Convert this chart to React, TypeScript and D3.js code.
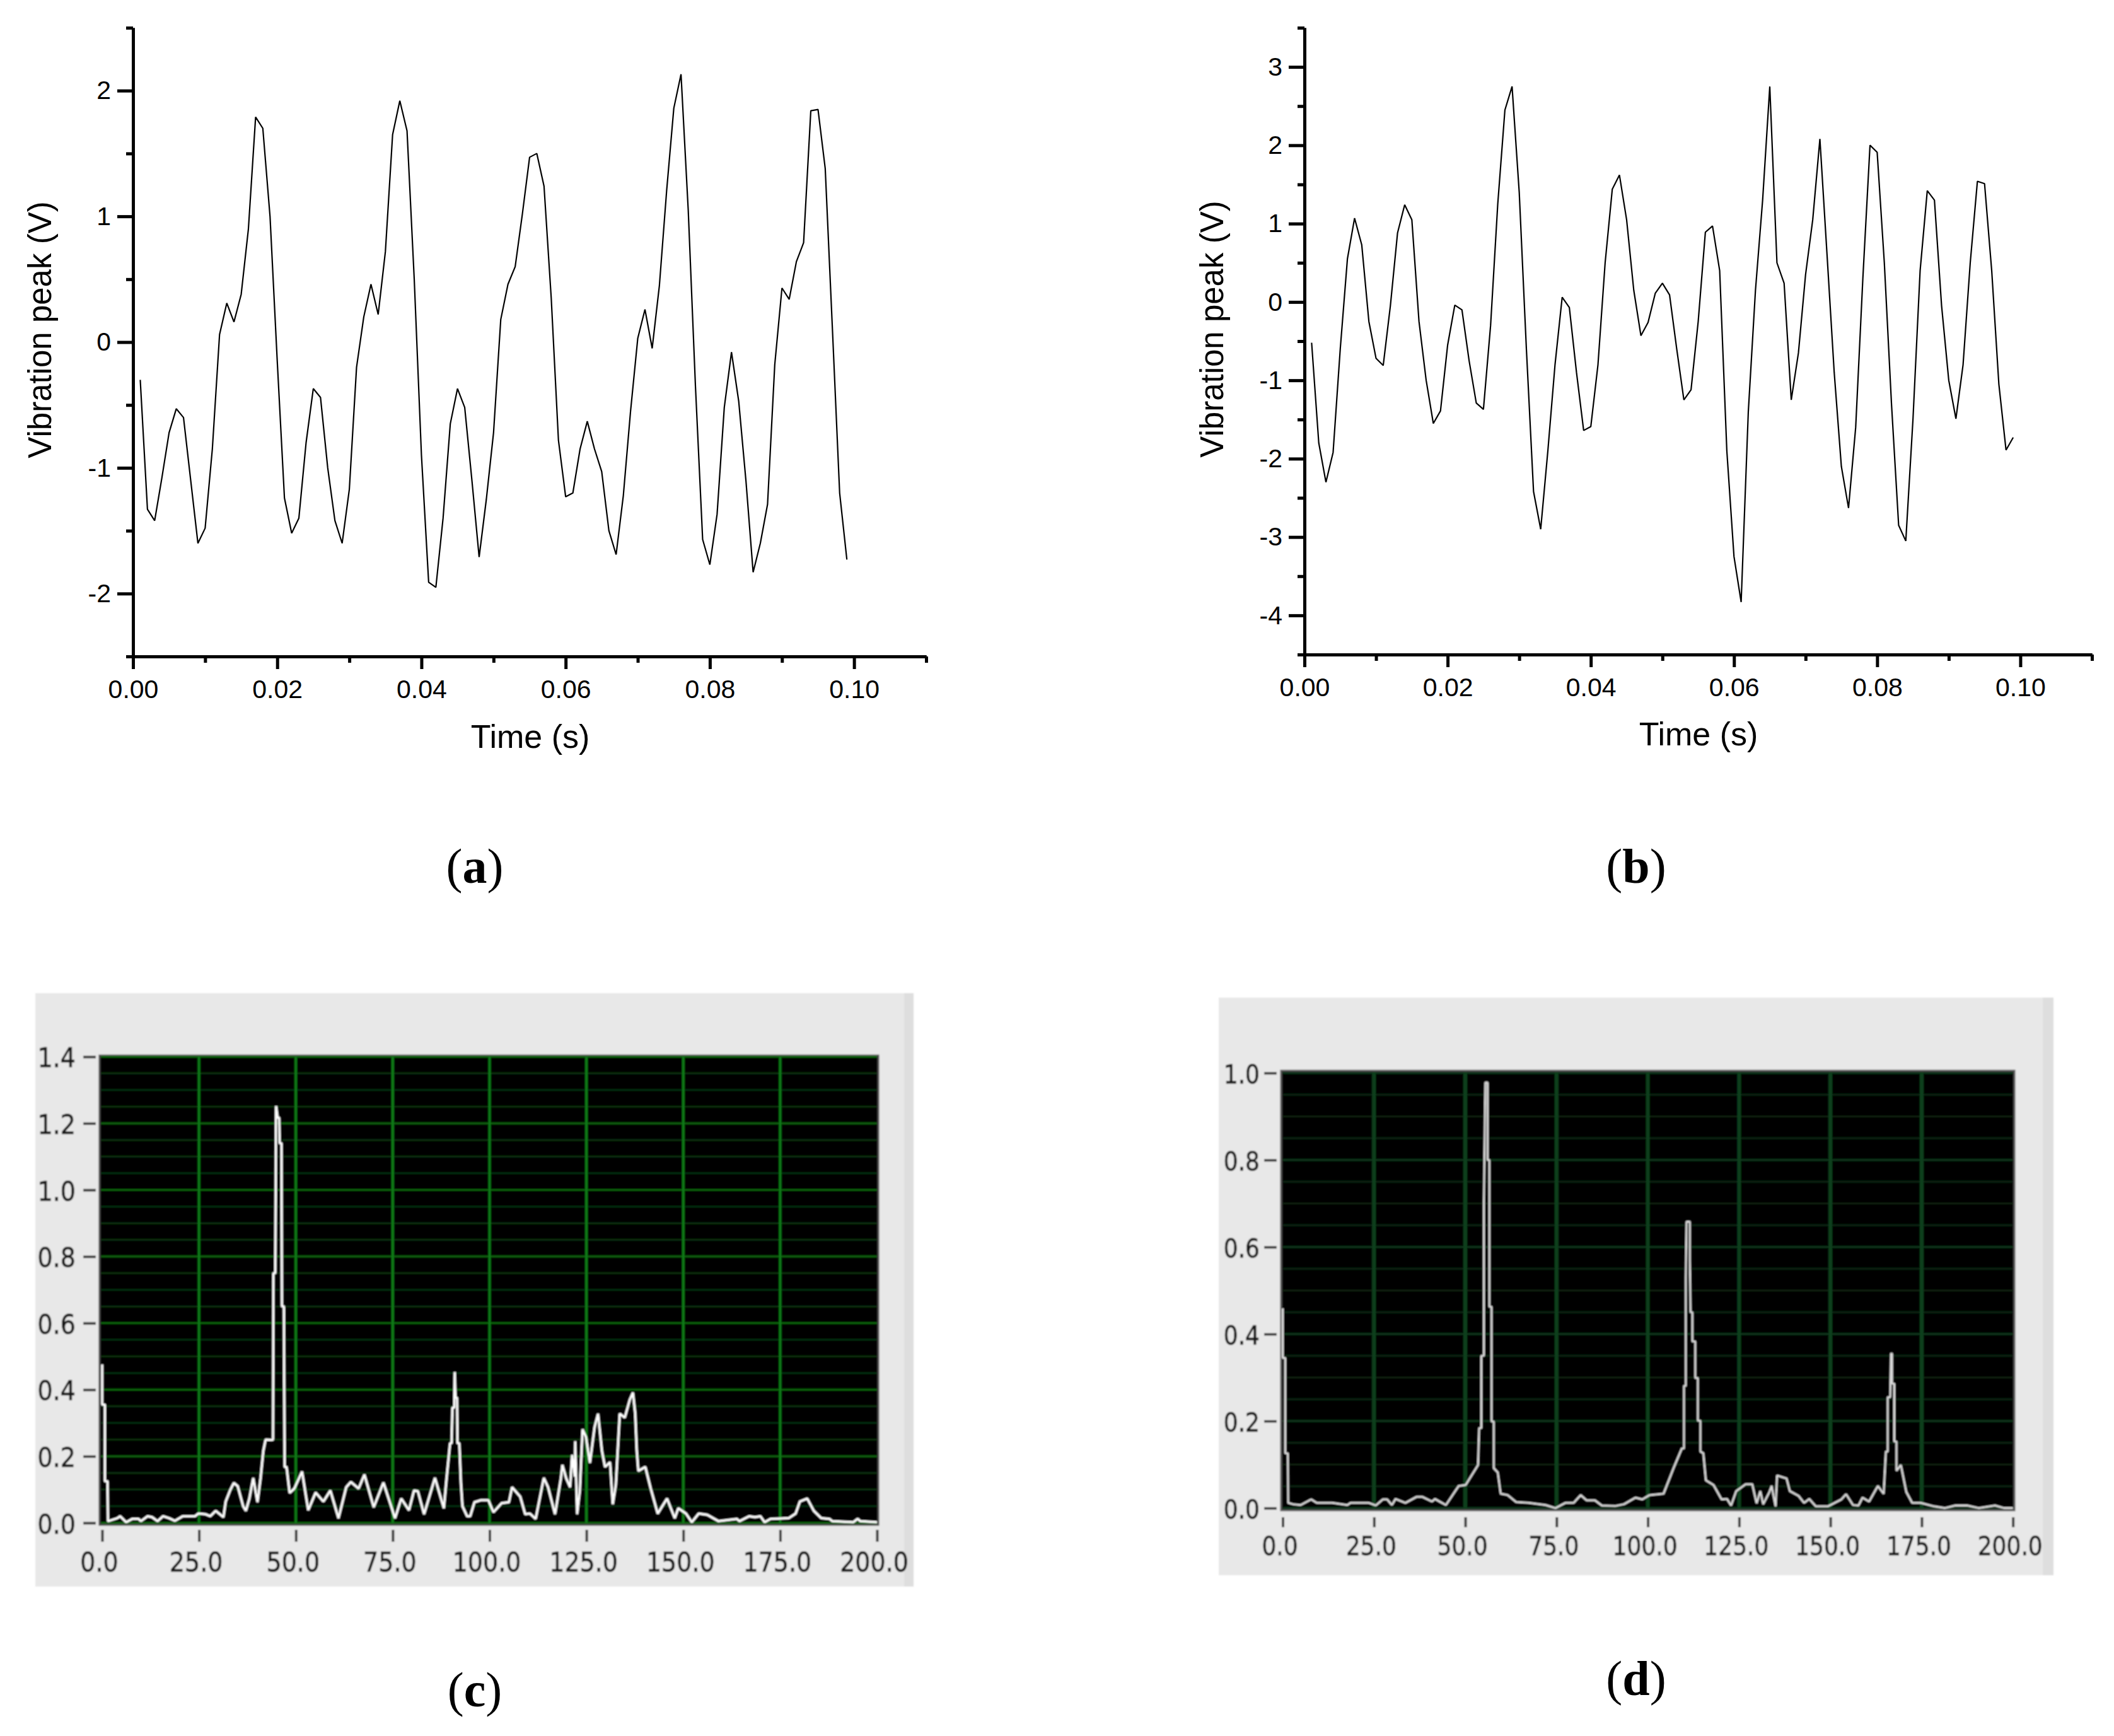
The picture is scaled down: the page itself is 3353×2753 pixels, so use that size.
import { useEffect, useRef } from 'react';
import * as d3 from 'd3';

// one sample per millisecond, starting at 0.001 s
const peakA = [
  -0.3, -1.33, -1.42, -1.08, -0.72, -0.53, -0.6, -1.1, -1.6, -1.48, -0.85, 0.06, 0.31, 0.16, 0.38, 0.9, 1.79, 1.7, 1.0,
  -0.15, -1.24, -1.52, -1.4, -0.8, -0.37, -0.44, -1.0, -1.42, -1.6, -1.17, -0.2, 0.2, 0.46, 0.22, 0.72, 1.65, 1.92, 1.68,
  0.5, -0.9, -1.91, -1.95, -1.4, -0.65, -0.37, -0.52, -1.1, -1.71, -1.25, -0.72, 0.18, 0.46, 0.6, 1.02, 1.47, 1.5, 1.24,
  0.35, -0.78, -1.23, -1.2, -0.85, -0.63, -0.85, -1.03, -1.5, -1.69, -1.22, -0.55, 0.03, 0.26, -0.05, 0.45, 1.2, 1.86,
  2.13, 1.05, -0.35, -1.57, -1.77, -1.37, -0.52, -0.08, -0.47, -1.1, -1.83, -1.6, -1.29, -0.18, 0.43, 0.34, 0.64, 0.79,
  1.84, 1.85, 1.38, 0.1, -1.2, -1.73,
];
const peakB = [
  -0.52, -1.8, -2.3, -1.92, -0.6, 0.55, 1.07, 0.73, -0.25, -0.72, -0.81, -0.05, 0.88, 1.24, 1.05, -0.25, -1.0, -1.55,
  -1.39, -0.55, -0.04, -0.1, -0.75, -1.29, -1.37, -0.3, 1.25, 2.45, 2.75, 1.4, -0.6, -2.42, -2.9, -1.9, -0.8, 0.06, -0.07,
  -0.9, -1.64, -1.59, -0.8, 0.5, 1.44, 1.62, 1.05, 0.15, -0.43, -0.26, 0.11, 0.24, 0.09, -0.6, -1.25, -1.12, -0.25, 0.89,
  0.97, 0.4, -1.9, -3.25, -3.83, -1.4, 0.15, 1.3, 2.75, 0.5, 0.24, -1.25, -0.65, 0.35, 1.05, 2.08, 0.6, -0.9, -2.1, -2.63,
  -1.6, 0.3, 2.0, 1.91, 0.5, -1.3, -2.85, -3.05, -1.5, 0.4, 1.42, 1.3, -0.05, -1.0, -1.49, -0.8, 0.5, 1.54, 1.51, 0.4,
  -1.05, -1.89, -1.73,
];

// [Hz, amplitude]
const spectrumC: [number, number][] = [
  [0, 0.476], [0, 0.355], [0.7, 0.355], [0.7, 0.125], [1.4, 0.125], [1.5, 0.005], [3.9, 0.014], [4.65, 0.02], [6.2, 0.002],
  [7.8, 0.012], [9.4, 0.012], [10, 0.005], [11.75, 0.02], [12.9, 0.017], [14.3, 0.005], [15.7, 0.02], [17.3, 0.014],
  [18.8, 0.006], [20.8, 0.02], [24, 0.02], [24.8, 0.028], [26.7, 0.026], [27.9, 0.02], [29.3, 0.036], [30.7, 0.023],
  [31.3, 0.017], [31.9, 0.064], [33, 0.097], [34, 0.12], [35, 0.11], [36.4, 0.05], [37.1, 0.036], [38, 0.073], [39, 0.135],
  [40.1, 0.062], [40.9, 0.135], [41.6, 0.216], [42.2, 0.25], [43.7, 0.249], [44.1, 0.25], [44.2, 0.75], [44.7, 0.75],
  [44.9, 1.252], [45.3, 1.217], [45.7, 1.217], [45.8, 1.14], [46.3, 1.14], [46.4, 0.65], [46.9, 0.65], [47.1, 0.168],
  [47.6, 0.168], [48.4, 0.09], [49.6, 0.103], [51.6, 0.154], [53.2, 0.038], [55.1, 0.091], [57.1, 0.064], [58.9, 0.097],
  [61, 0.014], [63, 0.107], [64.2, 0.123], [66.2, 0.103], [67.7, 0.145], [70.1, 0.047], [72.6, 0.121], [75.6, 0.014],
  [77.2, 0.073], [79.2, 0.038], [80.5, 0.097], [81.5, 0.095], [83.1, 0.026], [85.9, 0.135], [88.2, 0.044], [88.9, 0.133],
  [89.8, 0.239], [90.2, 0.239], [90.4, 0.346], [90.9, 0.346], [91, 0.453], [91.2, 0.376], [91.6, 0.376], [91.7, 0.239],
  [92.2, 0.239], [92.6, 0.121], [93, 0.05], [94.2, 0.02], [95, 0.02], [96.1, 0.062], [97.7, 0.068], [99.7, 0.068],
  [101, 0.032], [103.1, 0.059], [105, 0.062], [105.8, 0.107], [107.9, 0.079], [109.2, 0.026], [110.4, 0.028], [111.9, 0.012],
  [114, 0.135], [115.1, 0.107], [116.9, 0.026], [118.4, 0.133], [118.8, 0.174], [119.8, 0.133], [120.8, 0.107], [121.3, 0.204],
  [122, 0.139], [122.1, 0.245], [122.6, 0.026], [123.3, 0.097], [124, 0.281], [124.9, 0.257], [125.9, 0.18], [127.1, 0.287],
  [128, 0.328], [129, 0.216], [129.8, 0.168], [131.1, 0.182], [131.8, 0.056], [132.6, 0.115], [133.6, 0.328], [134.9, 0.316],
  [136.2, 0.37], [137, 0.391], [137.6, 0.328], [138, 0.216], [138.4, 0.156], [140.2, 0.168], [141.6, 0.103], [143.4, 0.028],
  [145.8, 0.073], [147.8, 0.014], [148.7, 0.044], [150.7, 0.028], [152.2, 0.002], [154, 0.028], [156.2, 0.024], [159.1, 0.005],
  [163.8, 0.012], [164.5, 0.005], [167, 0.02], [168.5, 0.017], [169.9, 0.02], [171, 0.002], [172.5, 0.012], [177.2, 0.014],
  [179, 0.028], [180.1, 0.064], [182, 0.073], [183.7, 0.036], [185.6, 0.014], [187.7, 0.012], [188.5, 0.005], [193.9, 0.002],
  [195, 0.012], [195.7, 0.005], [200, 0.002],
];
const spectrumD: [number, number][] = [
  [0, 0.459], [0, 0.345], [0.7, 0.345], [0.7, 0.126], [1.4, 0.126], [1.5, 0.012], [2.8, 0.009], [4.9, 0.007], [7.8, 0.02],
  [9.3, 0.012], [13.6, 0.012], [17.7, 0.007], [18.6, 0.012], [23.6, 0.012], [25.5, 0.006], [27.4, 0.02], [28.6, 0.02],
  [29.9, 0.007], [30.9, 0.021], [33.6, 0.012], [36.7, 0.026], [38.2, 0.026], [40.9, 0.015], [41.7, 0.021], [44.7, 0.007],
  [48.2, 0.051], [50.1, 0.053], [53.5, 0.099], [53.8, 0.184], [54.4, 0.184], [54.4, 0.35], [55.1, 0.35], [55.1, 0.703],
  [55.5, 0.978], [56.1, 0.978], [56.1, 0.8], [56.6, 0.8], [56.6, 0.463], [57.2, 0.463], [57.2, 0.199], [57.8, 0.199],
  [57.8, 0.092], [58.9, 0.082], [59.7, 0.033], [61.6, 0.03], [63.9, 0.014], [67.4, 0.012], [72, 0.007], [74.7, 0.0],
  [77.4, 0.012], [79.7, 0.012], [81.6, 0.03], [83.2, 0.018], [85.5, 0.018], [87.4, 0.006], [91.2, 0.005], [93.5, 0.009],
  [96.6, 0.024], [98.5, 0.02], [100.5, 0.03], [104.3, 0.033], [107.2, 0.095], [109.3, 0.137], [109.9, 0.137], [109.9, 0.281],
  [110.4, 0.281], [110.4, 0.53], [110.6, 0.658], [111.5, 0.658], [111.5, 0.57], [111.7, 0.45], [112.2, 0.45], [112.2, 0.383],
  [113, 0.383], [113, 0.299], [113.7, 0.299], [113.7, 0.201], [114.4, 0.201], [114.4, 0.13], [115.2, 0.126], [115.9, 0.064],
  [118, 0.053], [120.2, 0.02], [121.7, 0.021], [122.8, 0.006], [124.2, 0.039], [126.8, 0.055], [128.6, 0.055], [129.8, 0.011],
  [130.8, 0.039], [131.6, 0.009], [133.3, 0.037], [133.9, 0.051], [135, 0.004], [135.4, 0.075], [138, 0.068], [138.9, 0.039],
  [141.3, 0.028], [142.8, 0.012], [144.2, 0.021], [146, 0.004], [149.3, 0.004], [153, 0.02], [154.3, 0.032], [156.2, 0.007],
  [157.7, 0.006], [158.8, 0.024], [160.6, 0.015], [163, 0.051], [164.6, 0.033], [165.2, 0.13], [165.7, 0.13], [165.7, 0.255],
  [166.4, 0.255], [166.6, 0.355], [166.9, 0.355], [166.9, 0.286], [167.5, 0.286], [167.5, 0.153], [168.1, 0.153], [168.1, 0.086],
  [169.3, 0.099], [170.8, 0.037], [172.4, 0.012], [174.7, 0.012], [178.4, 0.004], [181.3, 0.0], [184.2, 0.006], [187.5, 0.006],
  [190.7, 0.0], [195.1, 0.006], [197.6, 0.0], [200, 0.0],
];

const timeMajor = [0, 0.02, 0.04, 0.06, 0.08, 0.1];
const timeMinor = [0.01, 0.03, 0.05, 0.07, 0.09, 0.11];
const peakMajorA = [-2, -1, 0, 1, 2];
const peakMinorA = [-2.5, -1.5, -0.5, 0.5, 1.5, 2.5];
const peakMajorB = [-4, -3, -2, -1, 0, 1, 2, 3];
const peakMinorB = [-4.5, -3.5, -2.5, -1.5, -0.5, 0.5, 1.5, 2.5, 3.5];
const hzTicks = [0, 25, 50, 75, 100, 125, 150, 175, 200];
const ampTicksC = [0, 0.2, 0.4, 0.6, 0.8, 1.0, 1.2, 1.4];
const ampTicksD = [0, 0.2, 0.4, 0.6, 0.8, 1.0];
const ampGridC = d3.range(0, 29).map((i) => i * 0.05);
const ampGridD = d3.range(0, 21).map((i) => i * 0.05);

const ARIAL = '"Liberation Sans", Arial, sans-serif';
const PANEL_FONT = '"DejaVu Sans", sans-serif';

type Sel = d3.Selection<SVGSVGElement, unknown, null, undefined>;

function timePlot(svg: Sel, o: any) {
  const g = svg.append('g');
  const x = d3.scaleLinear().domain([0, 0.11]).range([o.left, o.right]);
  const y = d3.scaleLinear().domain(o.yDomain).range([o.bottom, o.top]);

  const xMinor = g.append('g').attr('transform', `translate(0,${o.bottom})`)
    .call(d3.axisBottom(x).tickValues(timeMinor).tickSize(10).tickSizeOuter(0).tickFormat(() => ''));
  const xMajor = g.append('g').attr('transform', `translate(0,${o.bottom})`)
    .call(d3.axisBottom(x).tickValues(timeMajor).tickSize(20).tickSizeOuter(0).tickPadding(17).tickFormat(d3.format('.2f')));
  const yMinor = g.append('g').attr('transform', `translate(${o.left},0)`)
    .call(d3.axisLeft(y).tickValues(o.yMinor).tickSize(11).tickSizeOuter(0).tickFormat(() => ''));
  // plain hyphen in the labels, not d3's minus sign
  const yMajor = g.append('g').attr('transform', `translate(${o.left},0)`)
    .call(d3.axisLeft(y).tickValues(o.yMajor).tickSize(25).tickSizeOuter(0).tickPadding(10).tickFormat((d) => String(d)));

  [xMinor, xMajor, yMinor, yMajor].forEach((a) => {
    a.selectAll('line').attr('stroke', '#000').attr('stroke-width', 5);
    a.select('.domain').attr('stroke', '#000').attr('stroke-width', 5);
    a.selectAll('text').attr('font-family', ARIAL).attr('font-size', 41).attr('fill', '#000');
  });

  const line = d3.line<number>()
    .x((_, i) => x((i + 1) / 1000))
    .y((d) => y(d));
  g.append('path')
    .attr('d', line(o.values))
    .attr('fill', 'none')
    .attr('stroke', '#000')
    .attr('stroke-width', 2.2)
    .attr('stroke-linejoin', 'bevel');

  g.append('text')
    .attr('x', o.xTitle[0]).attr('y', o.xTitle[1])
    .attr('text-anchor', 'middle')
    .attr('font-family', ARIAL).attr('font-size', 52)
    .text('Time (s)');
  g.append('text')
    .attr('transform', `translate(${o.yTitle[0]},${o.yTitle[1]}) rotate(-90)`)
    .attr('text-anchor', 'middle')
    .attr('font-family', ARIAL).attr('font-size', 51)
    .text('Vibration peak (V)');
}

function spectrumPlot(svg: Sel, o: any) {
  const g = svg.append('g').attr('filter', 'url(#soft)');
  const x = d3.scaleLinear().domain([0, 200]).range(o.xRange);
  const y = d3.scaleLinear().domain([0, 1]).range(o.yRange);

  // grey front panel + the darker strip on its right side
  g.append('rect').attr('x', o.panel[0]).attr('y', o.panel[1])
    .attr('width', o.panel[2] - o.panel[0]).attr('height', o.panel[3] - o.panel[1])
    .attr('fill', '#e8e8e8');
  g.append('rect').attr('x', o.strip).attr('y', o.panel[1])
    .attr('width', o.panel[2] - o.strip).attr('height', o.panel[3] - o.panel[1])
    .attr('fill', '#dedede');

  g.append('rect').attr('x', o.plot[0]).attr('y', o.plot[1])
    .attr('width', o.plot[2] - o.plot[0]).attr('height', o.plot[3] - o.plot[1])
    .attr('fill', '#000').attr('stroke', o.border).attr('stroke-width', 3);

  g.append('g').selectAll('line').data(o.grid as number[]).join('line')
    .attr('x1', o.plot[0] + 2).attr('x2', o.plot[2] - 2)
    .attr('y1', (d) => y(d)).attr('y2', (d) => y(d))
    .attr('stroke', (d) => (o.ticks.some((t: number) => Math.abs(t - d) < 1e-6) ? o.gridMajor : o.gridMinor))
    .attr('stroke-width', 2.5);
  g.append('g').selectAll('line').data(hzTicks.slice(1, -1)).join('line')
    .attr('x1', (d) => x(d)).attr('x2', (d) => x(d))
    .attr('y1', o.plot[1] + 2).attr('y2', o.plot[3] - 2)
    .attr('stroke', o.gridV).attr('stroke-width', o.gridVWidth);

  const line = d3.line<[number, number]>()
    .x((d) => x(d[0]))
    .y((d) => y(d[1]));
  g.append('path')
    .attr('d', line(o.values))
    .attr('fill', 'none')
    .attr('stroke', o.trace)
    .attr('stroke-width', o.traceWidth)
    .attr('stroke-linejoin', 'bevel');

  const xAxis = g.append('g').attr('transform', `translate(0,${o.xAxisY})`)
    .call(d3.axisBottom(x).tickValues(hzTicks).tickSize(o.xTick).tickSizeOuter(0).tickFormat(d3.format('.1f')));
  const yAxis = g.append('g').attr('transform', `translate(${o.yAxisX},0)`)
    .call(d3.axisLeft(y).tickValues(o.ticks).tickSize(20).tickSizeOuter(0).tickFormat(d3.format('.1f')));

  [xAxis, yAxis].forEach((a) => {
    a.select('.domain').remove();
    a.selectAll('line').attr('stroke', '#333').attr('stroke-width', 4);
    a.selectAll('text')
      .attr('font-family', PANEL_FONT).attr('font-size', o.labelSize).attr('fill', '#151515')
      .attr('stroke', '#151515').attr('stroke-width', 0.7)
      .attr('dy', 0);
  });
  xAxis.selectAll('text').attr('y', 0)
    .attr('transform', `translate(-5,${o.xLabelBase - o.xAxisY}) scale(1,1.12)`);
  yAxis.selectAll('text').attr('x', 0)
    .attr('transform', `translate(${o.yLabelRight - o.yAxisX},${o.yLabelDy}) scale(1,1.12)`);
}

function caption(svg: Sel, letter: string, cx: number, base: number) {
  const t = svg.append('text')
    .attr('x', cx).attr('y', base)
    .attr('text-anchor', 'middle')
    .attr('font-family', '"Liberation Serif", serif')
    .attr('font-size', 78);
  t.append('tspan').text('(');
  t.append('tspan').attr('font-weight', 'bold').text(letter);
  t.append('tspan').text(')');
}

export default function App() {
  const ref = useRef<SVGSVGElement>(null);

  useEffect(() => {
    const svg = d3.select(ref.current as SVGSVGElement);
    svg.selectAll('*').remove();

    svg.append('defs').append('filter')
      .attr('id', 'soft')
      .attr('filterUnits', 'userSpaceOnUse')
      .attr('x', 0).attr('y', 0).attr('width', 3353).attr('height', 2753)
      .append('feGaussianBlur').attr('stdDeviation', 0.9);

    timePlot(svg, {
      left: 211, right: 1469, top: 44, bottom: 1041,
      yDomain: [-2.5, 2.5], yMajor: peakMajorA, yMinor: peakMinorA, values: peakA,
      xTitle: [841, 1186], yTitle: [81, 523],
    });
    timePlot(svg, {
      left: 2069, right: 3318, top: 44, bottom: 1038,
      yDomain: [-4.5, 3.5], yMajor: peakMajorB, yMinor: peakMinorB, values: peakB,
      xTitle: [2694, 1182], yTitle: [1940, 522],
    });

    spectrumPlot(svg, {
      panel: [56, 1575, 1449, 2516], strip: 1434, plot: [158, 1674, 1393, 2418],
      xRange: [162, 1391], yRange: [2415, 1887],
      grid: ampGridC, ticks: ampTicksC, values: spectrumC,
      gridMajor: '#0a6a0c', gridMinor: '#083010', gridV: '#0b7a16', gridVWidth: 4,
      border: '#4a4a4a', trace: '#ffffff', traceWidth: 3.5,
      xAxisY: 2426, xTick: 19, xLabelBase: 2492, yAxisX: 152, yLabelRight: 120, yLabelDy: 16, labelSize: 38,
    });
    spectrumPlot(svg, {
      panel: [1933, 1582, 3257, 2498], strip: 3240, plot: [2032, 1698, 3195, 2395],
      xRange: [2034.5, 3192.7], yRange: [2391.6, 1701.6],
      grid: ampGridD, ticks: ampTicksD, values: spectrumD,
      gridMajor: '#0c3d20', gridMinor: '#0a2417', gridV: '#0a3f1e', gridVWidth: 6,
      border: '#5a5a5a', trace: '#d8d8d8', traceWidth: 3,
      xAxisY: 2406, xTick: 16, xLabelBase: 2466, yAxisX: 2025, yLabelRight: 1998, yLabelDy: 16, labelSize: 36,
    });

    caption(svg, 'a', 753, 1400);
    caption(svg, 'b', 2595, 1400);
    caption(svg, 'c', 753, 2706);
    caption(svg, 'd', 2595, 2688);
  }, []);

  return (
    <svg
      ref={ref}
      width={3353}
      height={2753}
      viewBox="0 0 3353 2753"
      style={{ position: 'absolute', left: 0, top: 0, display: 'block', background: '#fff' }}
    />
  );
}
